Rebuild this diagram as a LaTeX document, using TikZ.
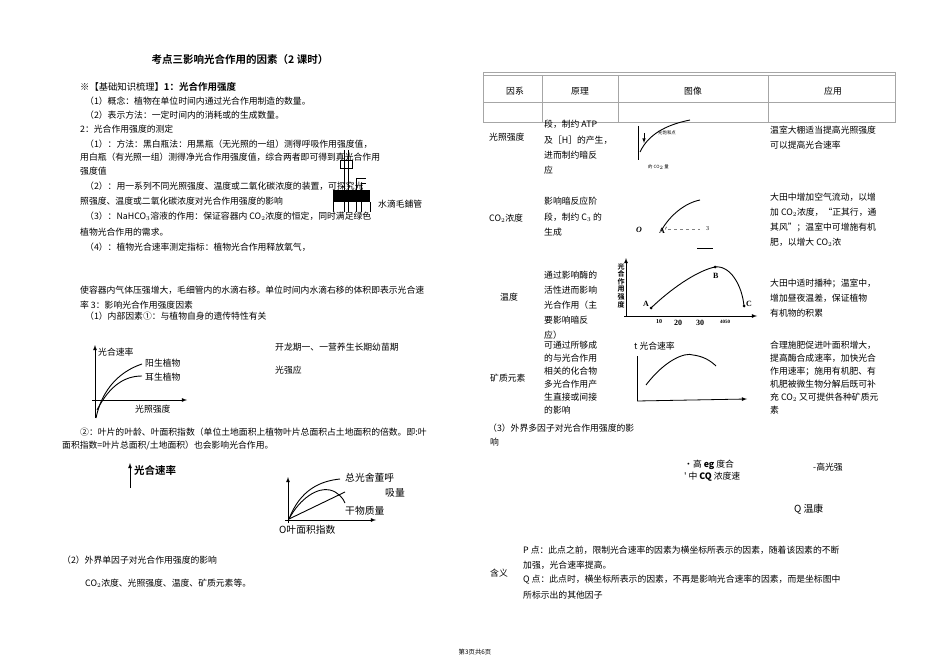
\documentclass[tikz,border=0pt]{standalone}
\usepackage{fontspec}
\setmainfont{Liberation Serif}
\newfontfamily\cjk{Noto Sans CJK SC}[Scale=0.98]
\newfontfamily\cjkb{Noto Sans CJK SC Bold}
\begin{document}
\begin{tikzpicture}[x=1pt,y=-1pt,
  t/.style={anchor=west,inner sep=0pt,font=\cjk\fontsize{9}{10}\selectfont},
  tb/.style={t,font=\cjkb\fontsize{9.5}{10}\selectfont},
  ax/.style={line width=0.8pt},
  axa/.style={ax,-latex},
  cv/.style={line width=0.9pt}]
\useasboundingbox (0,0) rectangle (950,671);
\fill[white] (0,0) rectangle (950,671);
% title
\node[tb,anchor=center,font=\cjkb\fontsize{10.5}{12}\selectfont] (title) at (240,60) {考点三影响光合作用的因素（2 课时）};
% left column
\node[tb] (l1) at (80,87) {{\cjk ※【基础知识梳理】}1：光合作用强度};
\node[t] (l2) at (85,101) {（1）概念：植物在单位时间内通过光合作用制造的数量。};
\node[t] (l3) at (85,115) {（2）表示方法：一定时间内的消耗或的生成数量。};
\node[t] (l4) at (80,129) {2：光合作用强度的测定};
\node[t] (l5) at (85,144) {（1）：方法：黑白瓶法：用黑瓶（无光照的一组）测得呼吸作用强度值，};
\node[t] (l6) at (80,157) {用白瓶（有光照一组）测得净光合作用强度值，综合两者即可得到真光合作用};
\node[t] (l7) at (80,171) {强度值};
\node[t] (l8) at (85,186) {（2）：用一系列不同光照强度、温度或二氧化碳浓度的装置，可探究光};
\node[t] (l9) at (80,201) {照强度、温度或二氧化碳浓度对光合作用强度的影响};
\node[t] (l10) at (85,216) {（3）：NaHCO$_3$溶液的作用：保证容器内 CO$_2$浓度的恒定，同时满足绿色};
\node[t] (l11) at (80,232) {植物光合作用的需求。};
\node[t] (l12) at (85,247) {（4）：植物光合速率测定指标：植物光合作用释放氧气，};
\node[t] (l13) at (80,290) {使容器内气体压强增大，毛细管内的水滴右移。单位时间内水滴右移的体积即表示光合速};
\node[t] (l14) at (80,305) {率 3：影响光合作用强度因素};
\node[t] (l15) at (85,316) {（1）内部因素①：与植物自身的遗传特性有关};
% apparatus
\fill[black] (333,190) rectangle (370,202);
\draw[line width=0.7pt] (344,150)--(344,212) (348,150)--(348,212) (340,160) rectangle (352,168)
  (356,178)--(356,212) (361,183)--(361,212) (356,178)--(366,178) (361,183)--(366,183)
  (333,202)--(333,212) (370,202)--(370,212);
\node[t] (app) at (378,204) {水滴毛鋪管};
% graph 1
\draw[axa] (95,418)--(95,345);
\draw[axa] (92,400)--(187,400);
\draw[cv] (96,418) .. controls (104,380) and (130,368) .. (142,364);
\draw[cv] (97,410) .. controls (110,385) and (125,376) .. (142,376);
\node[t] (g1a) at (98,352) {光合速率};
\node[t] (g1b) at (145,363) {阳生植物};
\node[t] (g1c) at (145,377) {耳生植物};
\node[t] (g1d) at (135,409) {光照强度};
\node[t] (n1) at (275,347) {开龙期一、一营养生长期幼苗期};
\node[t] (n2) at (275,370) {光强应};
\node[t] (l16) at (80,432) {②：叶片的叶龄、叶面积指数（单位土地面积上植物叶片总面积占土地面积的倍数。即:叶};
\node[t] (l17) at (62,446) {面积指数=叶片总面积/土地面积）也会影响光合作用。};
% graph 2 (partial)
\draw[axa] (130,488)--(130,463);
\node[tb,font=\cjkb\fontsize{10.5}{12}\selectfont] (g2a) at (134,470) {光合速率};
% graph 3
\draw[axa] (288,523)--(288,477);
\draw[axa] (285,520)--(376,520);
\draw[cv] (289,519) .. controls (300,490) and (320,481) .. (340,479);
\draw[cv] (289,519) .. controls (300,498) and (318,487) .. (330,490) .. controls (338,492) and (343,498) .. (345,503);
\draw[cv] (289,519)--(345,492);
\node[t,font=\cjk\fontsize{10}{11}\selectfont] (g3a) at (345,478) {总光舍董呼};
\node[t,font=\cjk\fontsize{10}{11}\selectfont] (g3b) at (385,493) {吸量};
\node[t,font=\cjk\fontsize{10}{11}\selectfont] (g3c) at (345,511) {干物质量};
\node[t,font=\cjk\fontsize{10}{11}\selectfont] (g3d) at (279,530) {\textit{O}叶面积指数};
\node[t] (l18) at (62,560) {（2）外界单因子对光合作用强度的影响};
\node[t] (l19) at (85,583) {CO$_2$浓度、光照强度、温度、矿质元素等。};
\node[t,anchor=center,font=\cjk\fontsize{6.5}{7}\selectfont] (foot) at (475,652) {第3页共6页};
% table
\draw[gray!70,line width=0.6pt] (483,72) rectangle (895,122);
\draw[gray!70,line width=0.5pt] (483,75)--(895,75) (483,102)--(895,102)
  (542,75)--(542,122) (618,75)--(618,122) (768,75)--(768,122);
\node[t,anchor=center] (h1) at (515,91) {因系};
\node[t,anchor=center] (h2) at (580,91) {原理};
\node[t,anchor=center] (h3) at (693,91) {图像};
\node[t,anchor=center] (h4) at (833,91) {应用};
% row light
\node[t] (r1) at (489,137) {光照强度};
\node[t] (r1a) at (544,124) {段，制约 ATP};
\node[t] (r1b) at (544,140) {及［H］的产生，};
\node[t] (r1c) at (544,155) {进而制约暗反};
\node[t] (r1d) at (544,170) {应};
\draw[ax] (638,126)--(638,160);
\draw[cv] (640,152) .. controls (648,135) and (665,125) .. (690,120);
\draw[line width=0.6pt,-latex] (644,133)--(644,143);
\node[t,font=\cjk\fontsize{4.5}{5}\selectfont] (r1g) at (658,133) {光饱和点};
\node[t,font=\cjk\fontsize{4.5}{5}\selectfont] (r1h) at (648,167) {的 CO$_2$ 量};
\node[t] (r1e) at (770,130) {温室大棚适当提高光照强度};
\node[t] (r1f) at (770,145) {可以提高光合速率};
% row CO2
\node[t] (r2) at (489,218) {CO$_2$浓度};
\node[t] (r2a) at (544,201) {影响暗反应阶};
\node[t] (r2b) at (544,217) {段，制约 C$_3$ 的};
\node[t] (r2c) at (544,232) {生成};
\draw[cv] (661,231) .. controls (670,215) and (685,203) .. (700,200);
\node[t,font=\itshape\bfseries\fontsize{8}{9}\selectfont] (r2o) at (636,230) {O};
\node[t,font=\bfseries\fontsize{8}{9}\selectfont] (r2p) at (659,230) {A$'$};
\draw[gray,dashed] (668,229)--(700,229);
\node[t,font=\fontsize{6}{7}\selectfont] (r2q) at (706,229) {3};
\draw[ax] (697,248)--(713,248);
\node[t] (r2d) at (770,197) {大田中增加空气流动，以增};
\node[t] (r2e) at (770,212) {加 CO$_2$浓度，“正其行，通};
\node[t] (r2f) at (770,227) {其风”；温室中可增施有机};
\node[t] (r2g) at (770,242) {肥，以增大 CO$_2$浓};
% row temperature
\node[t] (r3) at (500,297) {温度};
\node[t] (r3a) at (544,275) {通过影响酶的};
\node[t] (r3b) at (544,290) {活性进而影响};
\node[t] (r3c) at (544,305) {光合作用（主};
\node[t] (r3d) at (544,320) {要影响暗反};
\node[t] (r3e) at (544,335) {应）};
\draw[axa] (626,316)--(626,258);
\draw[axa] (624,316)--(757,316);
\node[tb,font=\cjkb\fontsize{7}{7.6}\selectfont,align=center,anchor=north] (r3y) at (621,263) {光\\合\\作\\用\\强\\度};
\draw[cv] (651,308) .. controls (675,285) and (700,270) .. (715,267) .. controls (730,265) and (742,285) .. (744,306);
\fill (651,308) circle (1.5) (715,267) circle (1.5) (744,306) circle (1.5);
\node[t,font=\bfseries\fontsize{8}{9}\selectfont] (pa) at (643,304) {A};
\node[t,font=\bfseries\fontsize{8}{9}\selectfont] (pb) at (713,276) {B};
\node[t,font=\bfseries\fontsize{8}{9}\selectfont] (pc) at (746,304) {C};
\node[t,font=\bfseries\fontsize{6}{7}\selectfont] (x1) at (656,322) {10};
\node[t,font=\bfseries\fontsize{8}{9}\selectfont] (x2) at (674,323) {20};
\node[t,font=\bfseries\fontsize{8}{9}\selectfont] (x3) at (696,323) {30};
\node[t,font=\bfseries\fontsize{5}{6}\selectfont] (x4) at (720,322) {4050};
\node[t] (r3f) at (770,283) {大田中适时播种；温室中，};
\node[t] (r3g) at (770,298) {增加昼夜温差，保证植物};
\node[t] (r3h) at (770,313) {有机物的积累};
% row minerals
\node[t] (r4) at (490,378) {矿质元素};
\node[t] (r4a) at (544,345) {可通过所够成};
\node[t] (r4b) at (544,358) {的与光合作用};
\node[t] (r4c) at (544,371) {相关的化合物};
\node[t] (r4d) at (544,384) {多光合作用产};
\node[t] (r4e) at (544,397) {生直接或间接};
\node[t] (r4f) at (544,410) {的影响};
\draw[ax] (637,356)--(637,401);
\draw[axa] (637,401)--(747,399);
\draw[cv] (646,385) .. controls (665,360) and (685,352) .. (693,355) .. controls (702,356) and (710,360) .. (716,366);
\node[t] (r4g) at (634,346) {t 光合速率};
\node[t] (r4h) at (770,345) {合理施肥促进叶面积增大，};
\node[t] (r4i) at (770,358) {提高酶合成速率，加快光合};
\node[t] (r4j) at (770,371) {作用速率；施用有机肥、有};
\node[t] (r4k) at (770,384) {机肥被微生物分解后既可补};
\node[t] (r4l) at (770,397) {充 CO$_2$ 又可提供各种矿质元};
\node[t] (r4m) at (770,410) {素};
\node[t] (m1) at (488,428) {（3）外界多因子对光合作用强度的影};
\node[t] (m2) at (490,442) {响};
\node[t] (m3) at (684,465) {•高 \textbf{eg} 度合};
\node[t] (m4) at (684,477) {' 中 \textbf{CQ} 浓度速};
\node[t] (m5) at (813,467) {-高光强};
\node[t,font=\cjk\fontsize{10}{11}\selectfont] (m6) at (794,509) {Q 温康};
\node[t] (hy) at (490,573) {含义};
\node[t] (p1) at (523,550) {P 点：此点之前，限制光合速率的因素为横坐标所表示的因素，随着该因素的不断};
\node[t] (p2) at (523,565) {加强，光合速率提高。};
\node[t] (p3) at (523,580) {Q 点：此点时，横坐标所表示的因素，不再是影响光合速率的因素，而是坐标图中};
\node[t] (p4) at (523,595) {所标示出的其他因子};
\end{tikzpicture}
\end{document}
